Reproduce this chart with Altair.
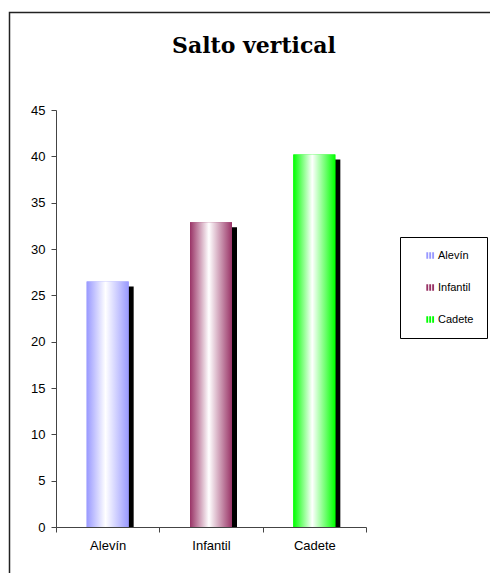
import altair as alt
import pandas as pd

categories = ["Alevín", "Infantil", "Cadete"]
values = [26.5, 32.9, 40.2]
colors = ["#9999FF", "#993366", "#00FF00"]
title_text = "Salto vertical"
y_ticks = [0, 5, 10, 15, 20, 25, 30, 35, 40, 45]

df = pd.DataFrame({"cat": categories, "val": values})
one = pd.DataFrame({"a": [0]})

W, H = 310, 417
BAR = 42

xenc = alt.X(
    "cat:N",
    sort=categories,
    scale=alt.Scale(paddingInner=0, paddingOuter=0),
    axis=alt.Axis(title=None, labelAngle=0, tickBand="extent", tickSize=5,
                  labelPadding=7, domainColor="#444", tickColor="#444"),
)
yenc = alt.Y(
    "val:Q",
    scale=alt.Scale(domain=[0, 45], nice=False),
    axis=alt.Axis(title=None, values=y_ticks, grid=False, tickSize=5,
                  labelPadding=6, domainColor="#444", tickColor="#444"),
)

base = alt.Chart(df).encode(x=xenc, y=yenc)

frame = alt.Chart(one).mark_rect(
    fill="transparent", stroke="#222", strokeWidth=1.5, clip=False
).encode(x=alt.value(-46.5), x2=alt.value(470), y=alt.value(-97.5), y2=alt.value(500))

title = alt.Chart(one).mark_text(
    text=title_text, font="DejaVu Serif", fontSize=22, fontWeight="bold",
    baseline="alphabetic", align="center", color="black"
).encode(x=alt.value(198), y=alt.value(-57))

shadow = base.mark_bar(color="black", size=BAR, xOffset=5, yOffset=5, y2Offset=0).encode(
    y2=alt.datum(0)
)

stripe_path = "M-1,-0.8H-0.55V0.8H-1Z M-0.3,-0.8H0.15V0.8H-0.3Z M0.4,-0.8H0.85V0.8H0.4Z"

colored = base.mark_bar(size=BAR).encode(
    color=alt.Color(
        "cat:N",
        sort=categories,
        scale=alt.Scale(domain=categories, range=colors),
        legend=alt.Legend(
            title=None, orient="none", legendX=344, legendY=127,
            strokeColor="black", padding=13, symbolOffset=12,
            symbolType=stripe_path, symbolSize=70, symbolStrokeWidth=0,
            labelFont="Liberation Sans", labelFontSize=11, labelColor="black",
            rowPadding=20, labelOffset=2,
        ),
    )
)

grad_layers = []
for c, col in zip(categories, colors):
    grad = alt.LinearGradient(
        gradient="linear",
        stops=[
            alt.GradientStop(color=col, offset=0),
            alt.GradientStop(color="white", offset=0.45),
            alt.GradientStop(color=col, offset=1),
        ],
        x1=0, x2=1, y1=0, y2=0,
    )
    grad_layers.append(
        base.transform_filter(alt.datum.cat == c).mark_bar(size=BAR, fill=grad)
    )

chart = alt.layer(frame, title, shadow, colored, *grad_layers).properties(
    width=W, height=H,
    autosize=alt.AutoSizeParams(type="none"),
    padding={"left": 56, "top": 110, "right": 124, "bottom": 46},
    background="white",
).configure_view(strokeWidth=0).configure_axis(
    labelFont="Liberation Sans", labelFontSize=13, labelColor="black"
)

chart.save("out.html", embed_options={"renderer": "svg", "actions": False})
